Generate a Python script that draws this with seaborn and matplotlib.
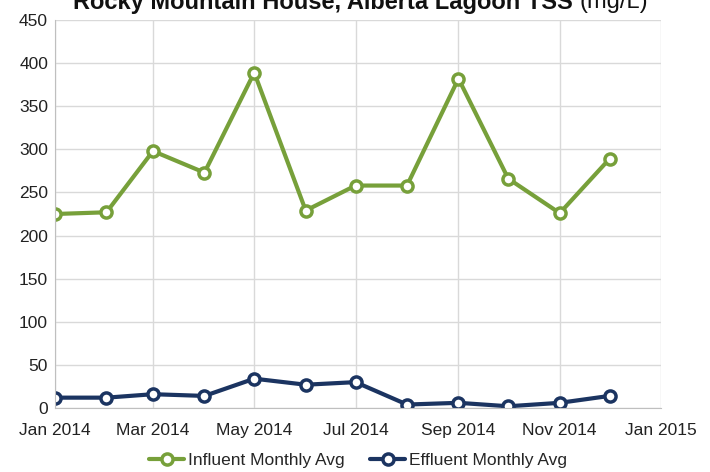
import pandas as pd
import matplotlib
matplotlib.use("Agg")
import matplotlib.pyplot as plt
import matplotlib.dates as mdates
import seaborn as sns

# monthly averages, TSS mg/L
MONTHS = pd.date_range("2014-01-01", "2014-12-01", freq="MS")
INFLUENT = [225, 227, 298, 273, 389, 229, 258, 258, 382, 266, 226, 289]
EFFLUENT = [12, 12, 16, 14, 34, 27, 30, 4, 6, 2, 6, 14]

GREEN = "#77a03a"
NAVY = "#1b3461"

sns.set_style("white")
plt.rcParams["font.family"] = ["Liberation Sans Narrow", "Liberation Sans", "DejaVu Sans"]

df = pd.DataFrame({
    "month": list(MONTHS) * 2,
    "tss": INFLUENT + EFFLUENT,
    "series": ["Influent Monthly Avg"] * 12 + ["Effluent Monthly Avg"] * 12,
})

fig = plt.figure(figsize=(7.1, 4.72), dpi=100)
ax = fig.add_axes([0.0775, 0.1356, 0.8535, 0.822])

sns.lineplot(data=df, x="month", y="tss", hue="series",
             palette=[GREEN, NAVY], marker="o", markersize=8,
             markerfacecolor="white", markeredgewidth=2.5,
             linewidth=3, ax=ax)
for line in ax.lines:
    line.set_markeredgecolor(line.get_color())

ax.set_ylim(0, 450)
ax.set_yticks(range(0, 451, 50))
ax.set_xlim(pd.Timestamp("2014-01-01"), pd.Timestamp("2015-01-01"))
ax.xaxis.set_major_locator(mdates.MonthLocator(bymonth=[1, 3, 5, 7, 9, 11]))
ax.xaxis.set_major_formatter(mdates.DateFormatter("%b %Y"))
ax.set_xlabel("")
ax.set_ylabel("")
ax.grid(True, color="#d9d9d9", linewidth=1)
ax.set_axisbelow(True)
for s in ["top", "right"]:
    ax.spines[s].set_visible(False)
for s in ["left", "bottom"]:
    ax.spines[s].set_color("#bfbfbf")
ax.tick_params(length=0, labelsize=12.5, colors="#222222")
ax.tick_params(axis="x", pad=11)
ax.tick_params(axis="y", pad=5)

leg = ax.legend(loc="center", bbox_to_anchor=(0.5, -0.135), ncol=2,
                frameon=False, fontsize=12.5, handlelength=2.0,
                handletextpad=0.2, columnspacing=1.5)
for h in leg.legend_handles:
    h.set_markerfacecolor("white")
    h.set_markeredgecolor(h.get_color())

fig.text(0.807, 0.995, "Rocky Mountain House, Alberta Lagoon TSS",
         ha="right", va="center", fontsize=17, fontweight="bold", color="#111111")
fig.text(0.816, 0.995, "(mg/L)", ha="left", va="center", fontsize=17, color="#111111")

fig.savefig("out.png", dpi=100)
